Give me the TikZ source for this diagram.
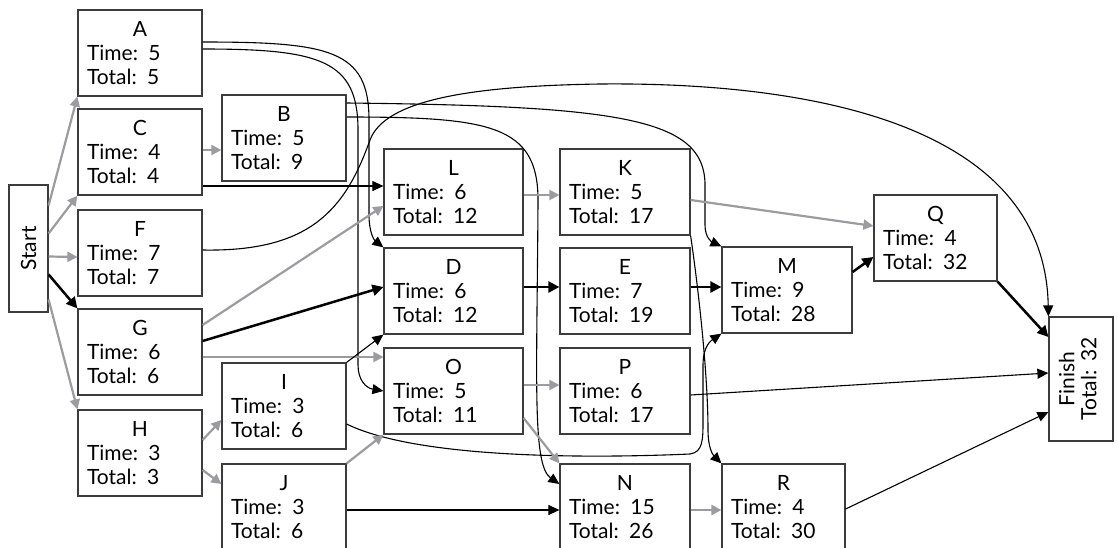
\documentclass[tikz,border=0pt]{standalone}
\usepackage{fontspec}
\setmainfont{Lato}
\usepackage{graphicx}
\usepackage{xcolor}
\definecolor{linkgray}{RGB}{156, 156, 160}
\definecolor{boxline}{RGB}{60, 60, 60}
\usetikzlibrary{
    arrows.meta,
    calc
}

\newcommand{\tasktitle}[1]{\hfill#1\hfill\null}
\newcommand{\gap}{~\,}

\begin{document}
\begin{tikzpicture}[
    x=1pt, y=-1pt,
    every node/.style={font=\fontsize{21}{24}\selectfont},
    box/.style={draw=boxline, line width=1.2pt, fill=white, inner ysep=3pt, inner xsep=9pt},
    task/.style={box, text width=#1, align=left, minimum height=86},
    slack/.style={draw=linkgray, line width=2.2pt, -{Triangle[length=10pt,width=10pt]}},
    dep/.style={draw=black, line width=1.1pt, -{Triangle[length=11pt,width=10pt]}},
    crit/.style={draw=black, line width=2.5pt, -{Triangle[length=11pt,width=11pt]}}
]
\useasboundingbox (0,0) rectangle (1118,547);

% ==================== START / FINISH ====================
\node[box, inner sep=0pt, minimum width=39, minimum height=127] (Start) at (28.5, 248.5) {\rotatebox{90}{Start}};

\node[box, inner sep=0pt, minimum width=64, minimum height=124] (Finish) at (1081, 379) {
    \rotatebox{90}{\renewcommand{\arraystretch}{0.92}\begin{tabular}{@{}c@{}}Finish\\Total:\gap32\end{tabular}}
};

% ==================== FIRST COLUMN ====================
\node[task=106] (A) at (140, 53) {\tasktitle{A}\\Time:\gap5\\Total:\gap5};
\node[task=106] (C) at (140, 152) {\tasktitle{C}\\Time:\gap4\\Total:\gap4};
\node[task=106] (F) at (140, 253) {\tasktitle{F}\\Time:\gap7\\Total:\gap7};
\node[task=106] (G) at (140, 352) {\tasktitle{G}\\Time:\gap6\\Total:\gap6};
\node[task=106] (H) at (140, 453) {\tasktitle{H}\\Time:\gap3\\Total:\gap3};

% ==================== SECOND COLUMN ====================
\node[task=106] (B) at (284, 138) {\tasktitle{B}\\Time:\gap5\\Total:\gap9};
\node[task=106] (I) at (284, 406) {\tasktitle{I}\\Time:\gap3\\Total:\gap6};
\node[task=106] (J) at (284, 507) {\tasktitle{J}\\Time:\gap3\\Total:\gap6};

% ==================== MIDDLE COLUMNS ====================
\node[task=121] (L) at (453.5, 192) {\tasktitle{L}\\Time:\gap6\\Total:\gap12};
\node[task=121] (D) at (453.5, 291) {\tasktitle{D}\\Time:\gap6\\Total:\gap12};
\node[task=121] (O) at (453.5, 391) {\tasktitle{O}\\Time:\gap5\\Total:\gap11};

\node[task=112] (K) at (625, 192) {\tasktitle{K}\\Time:\gap5\\Total:\gap17};
\node[task=112] (E) at (625, 291) {\tasktitle{E}\\Time:\gap7\\Total:\gap19};
\node[task=112] (P) at (625, 391) {\tasktitle{P}\\Time:\gap6\\Total:\gap17};
\node[task=112] (N) at (625, 507) {\tasktitle{N}\\Time:\gap15\\Total:\gap26};

% ==================== LAST COLUMNS ====================
\node[task=112] (M) at (787, 290) {\tasktitle{M}\\Time:\gap9\\Total:\gap28};
\node[task=105] (R) at (783.5, 507) {\tasktitle{R}\\Time:\gap4\\Total:\gap30};
\node[task=105] (Q) at (935.5, 238) {\tasktitle{Q}\\Time:\gap4\\Total:\gap32};

% ==================== LINKS FROM START ====================
\draw[slack] ([yshift=43]Start.east) -- (A.south west);
\draw[slack] ([yshift=15]Start.east) -- (C.south west);
\draw[slack] ([yshift=-8]Start.east) -- ([yshift=-4]F.west);
\draw[crit] ([yshift=-26]Start.east) -- (G.north west);
\draw[slack] ([yshift=-51]Start.east) -- (H.north west);

% ==================== LONG CURVED LINKS ====================
\draw[dep] ([yshift=11]A.east) .. controls (330,42) and (369,50) .. (369,120) -- (369,215)
    .. controls (369,232) and (374,240) .. (D.north west);
\draw[dep] ([yshift=4]A.east) .. controls (320,49) and (358,60) .. (358,130) -- (358,365)
    .. controls (358,380) and (366,388) .. (O.west);
\draw[dep] ([yshift=35]B.east) .. controls (620,106) and (705,118) .. (705,185) -- (705,225)
    .. controls (705,238) and (712,242) .. (M.north west);
\draw[dep] ([yshift=21]B.east) .. controls (490,117) and (538,125) .. (538,200)
    .. controls (537,380) and (532,465) .. ([yshift=23]N.west);
\draw[dep] ([yshift=3]F.east) .. controls (310,252) and (345,210) .. (370,140)
    .. controls (385,100) and (470,86) .. (600,84)
    .. controls (800,82) and (1045,120) .. (Finish.north west);
\draw[dep] ([yshift=-18]I.east) .. controls (420,460) and (600,458) .. (690,454)
    .. controls (703,452) and (703,440) .. (703,420) -- (703,365)
    .. controls (703,345) and (712,340) .. (M.south west);
\draw[dep] (K.south east) .. controls (700,300) and (708,380) .. (708,430)
    .. controls (708,448) and (713,455) .. (R.north west);

% ==================== STRAIGHT LINKS ====================
\draw[slack] ([yshift=2]C.east) -- ([yshift=-12]B.west);
\draw[dep] ([yshift=-34]C.east) -- ([yshift=6]L.west);
\draw[slack] ([yshift=27]G.east) -- ([yshift=-14]L.west);
\draw[crit] ([yshift=11]G.east) -- ([yshift=4]D.west);
\draw[slack] ([yshift=-5]G.east) -- ([yshift=34]O.west);
\draw[slack] ([yshift=13]H.east) -- ([yshift=-14]I.west);
\draw[slack] ([yshift=-17]H.east) -- ([yshift=23]J.west);
\draw[dep] (I.north east) -- (D.south west);
\draw[slack] (J.north east) -- (O.south west);
\draw[dep] ([yshift=-3]J.east) -- ([yshift=-3]N.west);
\draw[slack] ([yshift=-3]L.east) -- ([yshift=-3]K.west);
\draw[slack] ([yshift=-8]K.east) -- ([yshift=12]Q.west);
\draw[crit] ([yshift=4]D.east) -- ([yshift=4]E.west);
\draw[crit] ([yshift=4]E.east) -- ([yshift=3]M.west);
\draw[slack] ([yshift=6]O.east) -- ([yshift=6]P.west);
\draw[slack] ([yshift=-27]O.east) -- (N.north west);
\draw[dep] ([yshift=-4]P.east) -- ([yshift=6]Finish.west);
\draw[slack] ([yshift=-3]N.east) -- ([yshift=-3]R.west);
\draw[crit] ([yshift=18]M.east) -- ([yshift=-19]Q.west);
\draw[crit] (Q.south east) -- ([yshift=42]Finish.west);
\draw[dep] ([yshift=-2]R.east) -- ([yshift=-33]Finish.west);

\end{tikzpicture}
\end{document}
